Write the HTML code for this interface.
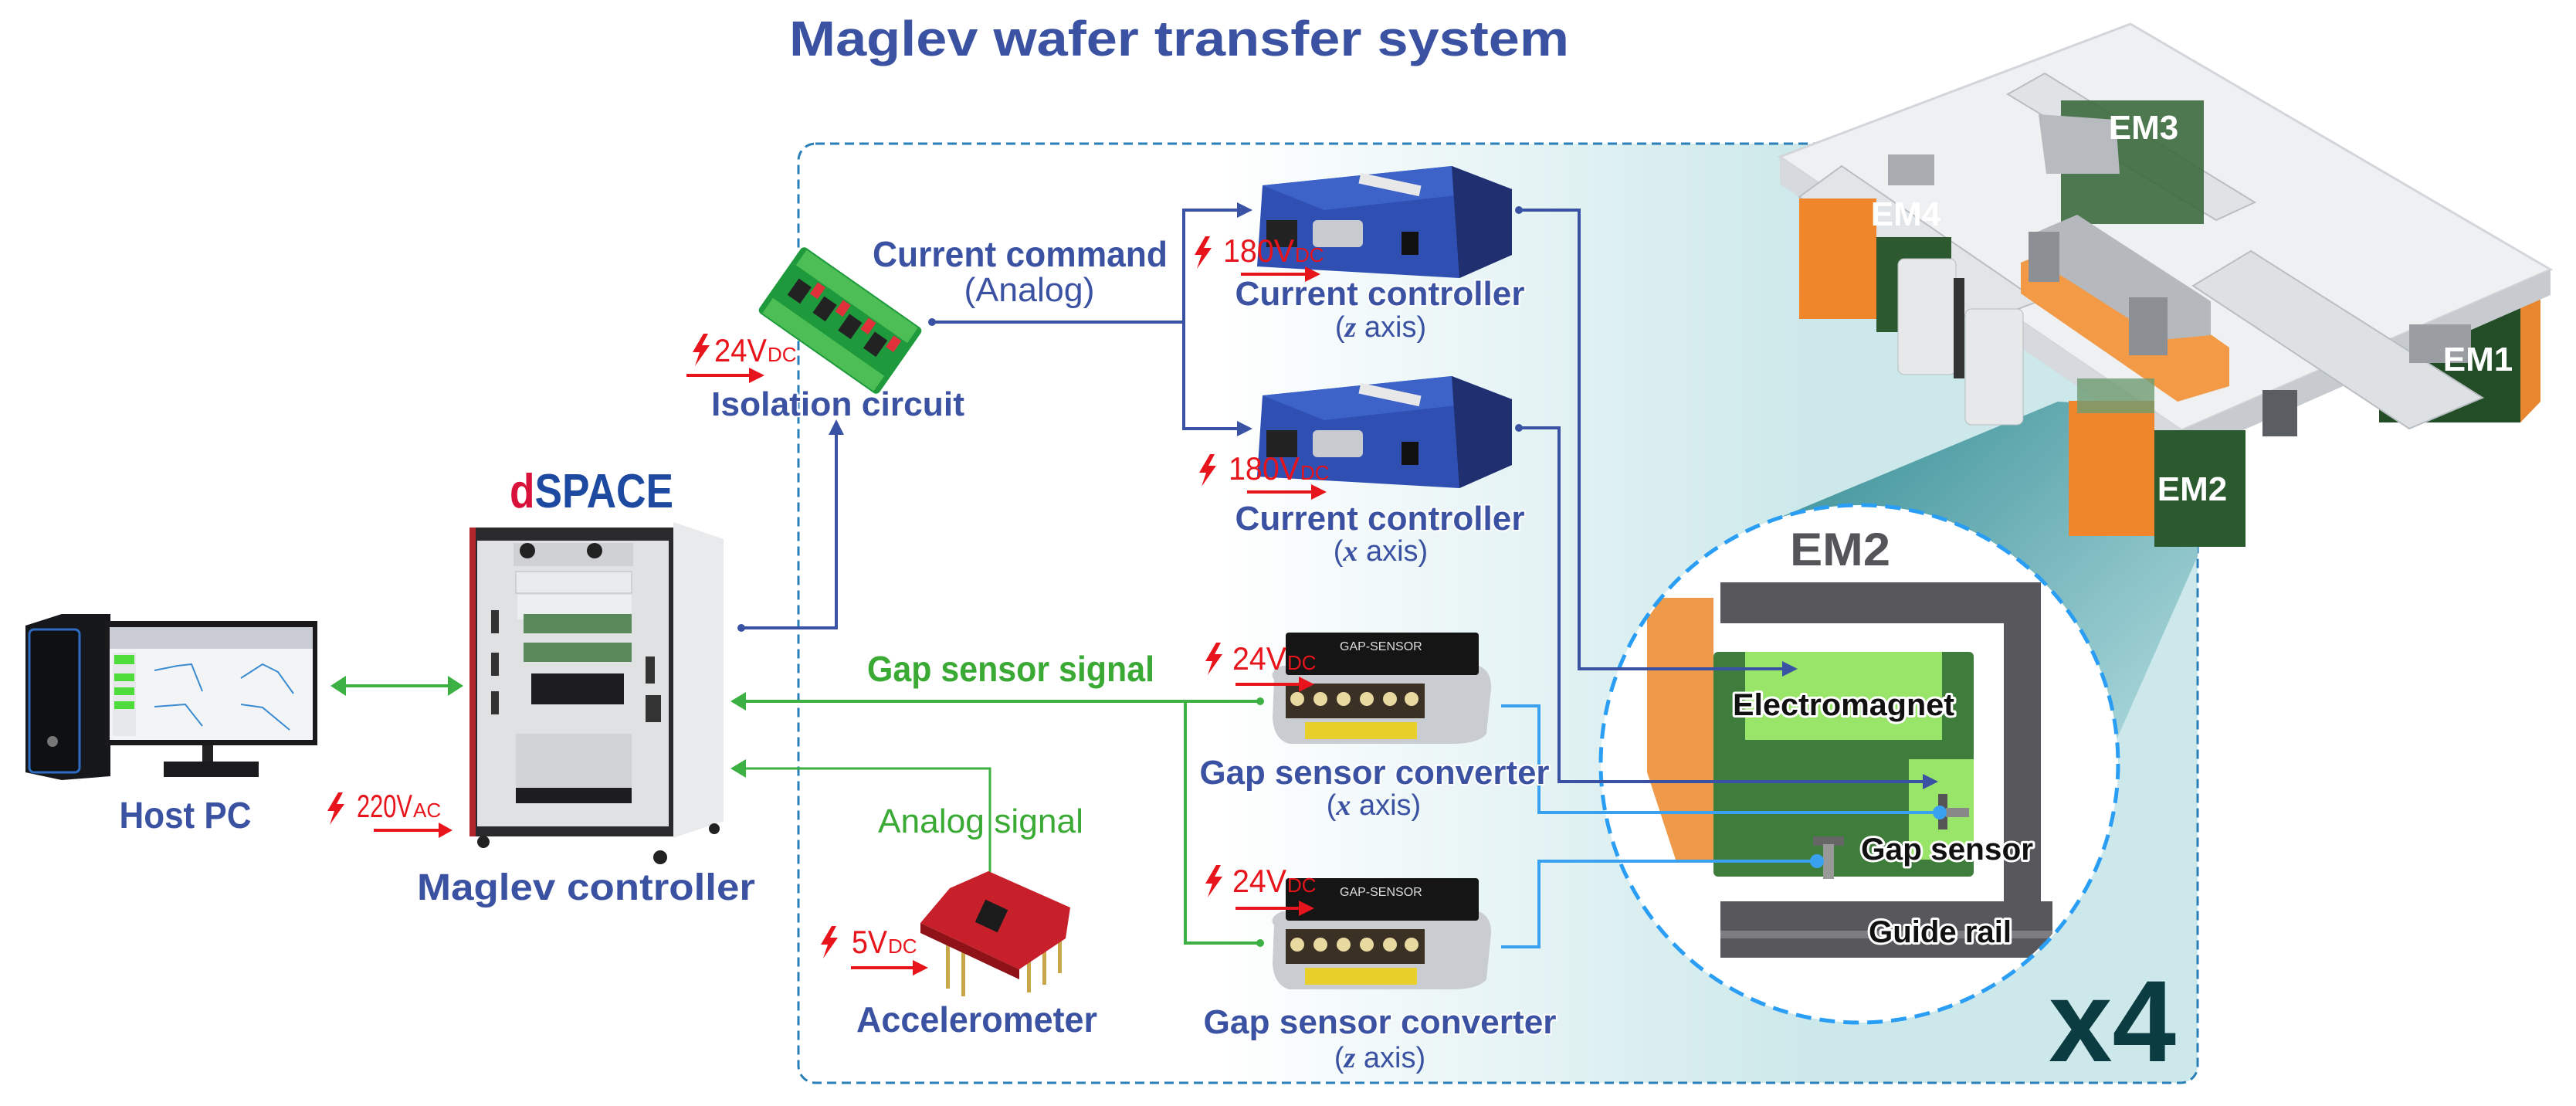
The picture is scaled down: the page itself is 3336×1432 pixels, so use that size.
<!DOCTYPE html>
<html><head><meta charset="utf-8"><style>
html,body{margin:0;padding:0;background:#fff;}
svg{display:block;}
text{font-family:"Liberation Sans",sans-serif;}
</style></head><body>
<svg width="3336" height="1432" viewBox="0 0 3336 1432" xmlns="http://www.w3.org/2000/svg">
<defs>
<linearGradient id="bg" gradientUnits="userSpaceOnUse" x1="1580" y1="0" x2="2350" y2="0">
<stop offset="0" stop-color="#ffffff"/><stop offset="1" stop-color="#cce8ea"/></linearGradient>
<linearGradient id="cone" gradientUnits="userSpaceOnUse" x1="2500" y1="520" x2="2850" y2="900">
<stop offset="0" stop-color="#4d9ca3"/><stop offset="1" stop-color="#a9d6da"/></linearGradient>
<clipPath id="cc"><circle cx="2408" cy="989" r="333"/></clipPath>
<path id="bolt" d="M14,0 L0,24 L9,24 L3,42 L22,15 L12,15 L20,0 Z" fill="#e8141b"/>
</defs>

<!-- Title -->
<text x="1527" y="72" font-size="64" font-weight="bold" fill="#3b52a3" text-anchor="middle" textLength="1010" lengthAdjust="spacingAndGlyphs">Maglev wafer transfer system</text>

<!-- dashed box -->
<rect x="1034" y="186" width="1812" height="1216" rx="22" fill="url(#bg)" stroke="#2a7fb8" stroke-width="3" stroke-dasharray="12,7"/>

<!-- cone -->
<polygon points="2665,520 2846,530 2846,720 2740,960 2300,672" fill="url(#cone)"/>

<!-- ===== Platform ===== -->
<g>
<rect x="2669" y="118" width="190" height="170" fill="#2f5a32"/>
<rect x="3081" y="390" width="183" height="157" fill="#234d27"/>
<polygon points="3264,380 3290,370 3290,520 3264,547" fill="#e8852f"/>
<polygon points="2759,31 3303,349 2825,557 2305,203" fill="#eef0f2" stroke="#d2d5d9" stroke-width="3"/>
<polygon points="2305,203 2825,557 2825,592 2305,238" fill="#d6d9dd"/>
<polygon points="2825,557 3303,349 3303,382 2825,592" fill="#c7cbd0"/>
<polygon points="2648,95 2920,262 2870,285 2600,122" fill="#dfe3e6" stroke="#b9bec3" stroke-width="2"/>
<polygon points="2915,325 3215,515 3120,555 2840,370" fill="#dde1e4" stroke="#b9bec3" stroke-width="2"/>
<polygon points="2385,215 2640,390 2560,420 2330,255" fill="#e2e5e8" stroke="#b9bec3" stroke-width="2"/>
<rect x="2669" y="130" width="185" height="160" fill="#3c6a3d" opacity="0.9"/>
<polygon points="2640,148 2740,155 2745,225 2650,225" fill="#b7babe"/>
<polygon points="2617,340 2690,311 2887,450 2887,500 2820,520 2617,380" fill="#f29a45"/>
<polygon points="2627,305 2690,278 2863,390 2863,434 2800,440 2627,330" fill="#b5b8bc"/>
<rect x="2627" y="300" width="40" height="65" fill="#8c8f93"/>
<rect x="2757" y="385" width="50" height="75" fill="#8c8f93"/>
<rect x="3120" y="420" width="80" height="50" fill="#9a9ea3"/>
<rect x="2330" y="257" width="100" height="156" fill="#f0862c"/>
<rect x="2430" y="307" width="97" height="123" fill="#2c5a2e"/>
<rect x="2445" y="200" width="60" height="40" fill="#a8abb0"/>
<rect x="2458" y="335" width="75" height="150" rx="8" fill="#e6e8ea" stroke="#b8bcc0"/>
<rect x="2545" y="400" width="75" height="150" rx="8" fill="#e6e8ea" stroke="#b8bcc0"/>
<rect x="2530" y="360" width="14" height="130" fill="#333"/>
<rect x="2679" y="519" width="111" height="175" fill="#f0862c"/>
<rect x="2790" y="557" width="118" height="151" fill="#2a5a2d"/>
<rect x="2690" y="490" width="100" height="45" fill="#6e9b72" opacity="0.8"/>
<rect x="2930" y="505" width="45" height="60" fill="#5a5d61"/>
</g>
<g font-size="44" font-weight="bold" fill="#fff" text-anchor="middle">
<text x="2776" y="180">EM3</text>
<text x="2468" y="292">EM4</text>
<text x="3209" y="480">EM1</text>
<text x="2839" y="648">EM2</text>
</g>

<!-- ===== Circle detail ===== -->
<circle cx="2408" cy="989" r="335" fill="#fff"/>
<g clip-path="url(#cc)">
<polygon points="2133,774 2219,774 2219,1113 2170,1113 2133,1000" fill="#ef9a4a"/>
<rect x="2228" y="754" width="415" height="53" fill="#58575c"/>
<rect x="2595" y="754" width="48" height="486" fill="#58575c"/>
<rect x="2228" y="1167" width="430" height="73" fill="#58575c"/>
<rect x="2228" y="1205" width="430" height="10" fill="#7d7c80"/>
<rect x="2219" y="844" width="337" height="291" rx="6" fill="#3f7d3c"/>
<rect x="2260" y="844" width="255" height="114" fill="#98e56a"/>
<rect x="2472" y="983" width="84" height="130" fill="#98e56a"/>
<rect x="2510" y="1028" width="12" height="46" fill="#555"/>
<rect x="2520" y="1046" width="30" height="12" fill="#888"/>
<rect x="2348" y="1083" width="40" height="12" fill="#666"/>
<rect x="2361" y="1093" width="14" height="45" fill="#999"/>
</g>
<circle cx="2408" cy="989" r="335" fill="none" stroke="#2a9df4" stroke-width="5" stroke-dasharray="20,11"/>
<text x="2383" y="732" font-size="60" font-weight="bold" fill="#555459" text-anchor="middle" textLength="130" lengthAdjust="spacingAndGlyphs">EM2</text>
<g font-size="40" font-weight="bold" fill="#111" stroke="#fff" stroke-width="6" paint-order="stroke" stroke-linejoin="round">
<text x="2244" y="926" textLength="287" lengthAdjust="spacingAndGlyphs">Electromagnet</text>
<text x="2410" y="1113" textLength="223" lengthAdjust="spacingAndGlyphs">Gap sensor</text>
<text x="2420" y="1220" textLength="185" lengthAdjust="spacingAndGlyphs">Guide rail</text>
</g>
<text x="2653" y="1374" font-size="150" font-weight="bold" fill="#0b3c42" textLength="165" lengthAdjust="spacingAndGlyphs">x4</text>

<!-- ===== Host PC ===== -->
<polygon points="33,810 80,795 143,795 143,1005 80,1010 33,1000" fill="#15171b"/>
<rect x="38" y="815" width="65" height="185" rx="6" fill="#0f1013" stroke="#2d6cc0" stroke-width="3"/>
<circle cx="68" cy="960" r="7" fill="#777"/>
<rect x="136" y="804" width="275" height="161" fill="#1a1a1c"/>
<rect x="142" y="812" width="263" height="146" fill="#f3f4f6"/>
<rect x="142" y="812" width="263" height="28" fill="#c9ccd2"/>
<rect x="146" y="845" width="30" height="108" fill="#e6e8ea"/>
<rect x="148" y="848" width="26" height="12" fill="#4ddc3a"/><rect x="148" y="872" width="26" height="10" fill="#4ddc3a"/>
<rect x="148" y="890" width="26" height="10" fill="#4ddc3a"/><rect x="148" y="908" width="26" height="10" fill="#4ddc3a"/>
<polyline points="200,868 230,862 248,860 262,895" fill="none" stroke="#3a8bd0" stroke-width="2"/>
<polyline points="312,878 340,860 360,870 380,898" fill="none" stroke="#3a8bd0" stroke-width="2"/>
<polyline points="200,915 240,912 262,940" fill="none" stroke="#3a8bd0" stroke-width="2"/>
<polyline points="312,912 340,916 375,945" fill="none" stroke="#3a8bd0" stroke-width="2"/>
<rect x="262" y="965" width="14" height="24" fill="#222"/>
<rect x="212" y="986" width="123" height="20" fill="#1b1b1d"/>
<text x="240" y="1072" font-size="48" font-weight="bold" fill="#3b52a3" text-anchor="middle" textLength="171" lengthAdjust="spacingAndGlyphs">Host PC</text>
<line x1="445" y1="888" x2="583" y2="888" stroke="#3cb043" stroke-width="4"/>
<polygon points="428,888 448,875 448,901" fill="#3cb043"/>
<polygon points="600,888 580,875 580,901" fill="#3cb043"/>
<use href="#bolt" x="424" y="1026"/>
<text x="462" y="1058" font-size="42" fill="#e8141b" textLength="72" lengthAdjust="spacingAndGlyphs">220V</text>
<text x="535" y="1058" font-size="26" fill="#e8141b">AC</text>
<line x1="484" y1="1075" x2="570" y2="1075" stroke="#e8141b" stroke-width="4"/>
<polygon points="586,1075 568,1065 568,1085" fill="#e8141b"/>

<!-- ===== dSPACE cabinet ===== -->
<text x="660" y="657" font-size="62" font-weight="bold" textLength="212" lengthAdjust="spacingAndGlyphs"><tspan fill="#d8123a">d</tspan><tspan fill="#1d4aa0">SPACE</tspan></text>
<polygon points="872,676 937,698 937,1063 872,1085" fill="#e8eaec"/>
<rect x="608" y="683" width="264" height="400" fill="#2a2a2c"/>
<rect x="608" y="683" width="8" height="400" fill="#b0262a"/>
<rect x="618" y="700" width="248" height="370" fill="#dfe1e3"/>
<rect x="665" y="703" width="155" height="30" fill="#cfd1d4"/>
<circle cx="683" cy="713" r="10" fill="#222"/><circle cx="770" cy="713" r="10" fill="#222"/>
<rect x="668" y="740" width="150" height="28" fill="#e9eaec" stroke="#bbb"/>
<rect x="670" y="770" width="148" height="32" fill="#eceeef"/>
<rect x="678" y="795" width="140" height="25" fill="#5a8a5c"/>
<rect x="678" y="832" width="140" height="25" fill="#5a8a5c"/>
<rect x="688" y="872" width="120" height="40" fill="#1d1d1f"/>
<rect x="668" y="950" width="150" height="70" fill="#d1d3d6"/>
<rect x="668" y="1020" width="150" height="20" fill="#1d1d1f"/>
<rect x="636" y="790" width="10" height="30" fill="#333"/><rect x="636" y="845" width="10" height="30" fill="#333"/><rect x="636" y="895" width="10" height="30" fill="#333"/>
<rect x="836" y="850" width="12" height="35" fill="#333"/><rect x="836" y="900" width="20" height="35" fill="#333"/>
<circle cx="626" cy="1090" r="8" fill="#222"/><circle cx="855" cy="1110" r="9" fill="#222"/><circle cx="925" cy="1073" r="7" fill="#222"/>
<text x="759" y="1165" font-size="48" font-weight="bold" fill="#3b52a3" text-anchor="middle" textLength="438" lengthAdjust="spacingAndGlyphs">Maglev controller</text>

<!-- ===== Connectors ===== -->
<circle cx="960" cy="813" r="5" fill="#3a52a3"/>
<polyline points="960,813 1083,813 1083,560" fill="none" stroke="#3a52a3" stroke-width="4"/>
<polygon points="1083,543 1073,563 1093,563" fill="#3a52a3"/>
<circle cx="1207" cy="417" r="5" fill="#3a52a3"/>
<polyline points="1207,417 1533,417" fill="none" stroke="#3a52a3" stroke-width="4"/>
<polyline points="1605,272 1533,272 1533,555 1605,555" fill="none" stroke="#3a52a3" stroke-width="4"/>
<polygon points="1622,272 1602,262 1602,282" fill="#3a52a3"/>
<polygon points="1622,555 1602,545 1602,565" fill="#3a52a3"/>
<circle cx="1967" cy="272" r="5" fill="#3a52a3"/>
<polyline points="1967,272 2045,272 2045,866 2310,866" fill="none" stroke="#3a52a3" stroke-width="4"/>
<polygon points="2328,866 2308,856 2308,876" fill="#3a52a3"/>
<circle cx="1967" cy="554" r="5" fill="#3a52a3"/>
<polyline points="1967,554 2019,554 2019,1012 2492,1012" fill="none" stroke="#3a52a3" stroke-width="4"/>
<polygon points="2510,1012 2490,1002 2490,1022" fill="#3a52a3"/>
<polyline points="1944,914 1993,914 1993,1052 2512,1052" fill="none" stroke="#3aa0f0" stroke-width="4"/>
<circle cx="2512" cy="1052" r="9" fill="#3aa0f0"/>
<polyline points="1944,1226 1993,1226 1993,1115 2353,1115" fill="none" stroke="#3aa0f0" stroke-width="4"/>
<circle cx="2353" cy="1115" r="9" fill="#3aa0f0"/>
<polyline points="962,908 1632,908" fill="none" stroke="#3cb043" stroke-width="4"/>
<polygon points="946,908 966,896 966,920" fill="#3cb043"/>
<circle cx="1632" cy="908" r="5" fill="#3cb043"/>
<polyline points="1535,908 1535,1221 1632,1221" fill="none" stroke="#3cb043" stroke-width="4"/>
<circle cx="1632" cy="1221" r="5" fill="#3cb043"/>
<polyline points="962,995 1282,995 1282,1135" fill="none" stroke="#3cb043" stroke-width="3"/>
<polygon points="946,995 966,983 966,1007" fill="#3cb043"/>

<!-- ===== Isolation circuit ===== -->
<g transform="translate(1088,415) rotate(35)">
<rect x="-95" y="-52" width="190" height="104" rx="6" fill="#1e9a3c"/>
<rect x="-88" y="-50" width="176" height="24" fill="#4cbe55"/>
<rect x="-88" y="26" width="176" height="24" fill="#4cbe55"/>
<rect x="-75" y="-14" width="20" height="26" fill="#222"/><rect x="-35" y="-14" width="20" height="26" fill="#222"/>
<rect x="5" y="-14" width="20" height="26" fill="#222"/><rect x="45" y="-14" width="20" height="26" fill="#222"/>
<rect x="-52" y="-24" width="12" height="18" fill="#e0303a"/><rect x="-12" y="-24" width="12" height="18" fill="#e0303a"/>
<rect x="28" y="-24" width="12" height="18" fill="#e0303a"/><rect x="68" y="-24" width="12" height="18" fill="#e0303a"/>
</g>
<text x="1085" y="538" font-size="44" font-weight="bold" fill="#3b52a3" text-anchor="middle" textLength="328" lengthAdjust="spacingAndGlyphs" stroke="#fff" stroke-width="4" paint-order="stroke">Isolation circuit</text>
<use href="#bolt" x="897" y="432"/>
<text x="925" y="468" font-size="42" fill="#e8141b" textLength="68" lengthAdjust="spacingAndGlyphs">24V</text>
<text x="994" y="468" font-size="26" fill="#e8141b">DC</text>
<line x1="889" y1="486" x2="972" y2="486" stroke="#e8141b" stroke-width="4"/>
<polygon points="990,486 970,476 970,496" fill="#e8141b"/>

<text x="1321" y="345" font-size="46" font-weight="bold" fill="#3b52a3" text-anchor="middle" textLength="382" lengthAdjust="spacingAndGlyphs">Current command</text>
<text x="1333" y="390" font-size="44" fill="#3b52a3" text-anchor="middle" textLength="169" lengthAdjust="spacingAndGlyphs">(Analog)</text>

<!-- ===== Current controllers ===== -->
<g id="cc1">
<polygon points="1635,240 1880,215 1958,245 1958,330 1890,360 1628,345" fill="#2f4fb3"/>
<polygon points="1635,240 1880,215 1958,245 1715,272" fill="#3d62c8"/>
<polygon points="1880,215 1958,245 1958,330 1890,360" fill="#1f2f70"/>
<rect x="1640" y="285" width="40" height="35" fill="#222"/>
<rect x="1700" y="285" width="65" height="35" rx="6" fill="#c8cbd0"/>
<rect x="1815" y="300" width="22" height="30" fill="#111"/>
<rect x="1760" y="232" width="80" height="14" fill="#e8e8e8" transform="rotate(12 1800 239)"/>
</g>
<use href="#cc1" y="272"/>
<use href="#bolt" x="1547" y="306"/>
<text x="1584" y="339" font-size="42" fill="#e8141b" textLength="92" lengthAdjust="spacingAndGlyphs">180V</text>
<text x="1677" y="339" font-size="26" fill="#e8141b">DC</text>
<line x1="1607" y1="355" x2="1692" y2="355" stroke="#e8141b" stroke-width="4"/>
<polygon points="1710,355 1690,345 1690,365" fill="#e8141b"/>
<text x="1787" y="395" font-size="44" font-weight="bold" fill="#3b52a3" text-anchor="middle" textLength="375" lengthAdjust="spacingAndGlyphs" stroke="#fff" stroke-width="4" paint-order="stroke">Current controller</text>
<text x="1788" y="436" font-size="38" fill="#3b52a3" text-anchor="middle">(<tspan font-family="Liberation Serif" font-style="italic" font-weight="bold">z</tspan> axis)</text>

<use href="#bolt" x="1553" y="588"/>
<text x="1591" y="621" font-size="42" fill="#e8141b" textLength="92" lengthAdjust="spacingAndGlyphs">180V</text>
<text x="1684" y="621" font-size="26" fill="#e8141b">DC</text>
<line x1="1615" y1="637" x2="1700" y2="637" stroke="#e8141b" stroke-width="4"/>
<polygon points="1718,637 1698,627 1698,647" fill="#e8141b"/>
<text x="1787" y="686" font-size="44" font-weight="bold" fill="#3b52a3" text-anchor="middle" textLength="375" lengthAdjust="spacingAndGlyphs" stroke="#fff" stroke-width="4" paint-order="stroke">Current controller</text>
<text x="1788" y="726" font-size="38" fill="#3b52a3" text-anchor="middle">(<tspan font-family="Liberation Serif" font-style="italic" font-weight="bold">x</tspan> axis)</text>

<!-- ===== Gap sensor converters ===== -->
<g id="gs1">
<path d="M1650,880 Q1642,870 1660,862 L1915,862 Q1935,870 1930,900 L1925,950 Q1915,963 1880,963 L1670,963 Q1650,958 1648,930 Z" fill="#c9ccd0"/>
<rect x="1665" y="819" width="250" height="55" rx="4" fill="#151515"/>
<text x="1735" y="842" font-size="16" fill="#ddd">GAP-SENSOR</text>
<rect x="1665" y="885" width="180" height="45" fill="#3a3024"/>
<circle cx="1680" cy="905" r="9" fill="#e8d9a0"/><circle cx="1710" cy="905" r="9" fill="#e8d9a0"/><circle cx="1740" cy="905" r="9" fill="#e8d9a0"/>
<circle cx="1770" cy="905" r="9" fill="#e8d9a0"/><circle cx="1800" cy="905" r="9" fill="#e8d9a0"/><circle cx="1828" cy="905" r="9" fill="#e8d9a0"/>
<rect x="1690" y="935" width="145" height="22" fill="#e8cf2a"/>
</g>
<use href="#gs1" y="318"/>
<use href="#bolt" x="1561" y="832"/>
<text x="1596" y="867" font-size="42" fill="#e8141b" textLength="70" lengthAdjust="spacingAndGlyphs">24V</text>
<text x="1667" y="867" font-size="26" fill="#e8141b">DC</text>
<line x1="1600" y1="886" x2="1684" y2="886" stroke="#e8141b" stroke-width="4"/>
<polygon points="1702,886 1682,876 1682,896" fill="#e8141b"/>
<text x="1780" y="1015" font-size="44" font-weight="bold" fill="#3b52a3" text-anchor="middle" textLength="453" lengthAdjust="spacingAndGlyphs" stroke="#fff" stroke-width="4" paint-order="stroke">Gap sensor converter</text>
<text x="1779" y="1055" font-size="38" fill="#3b52a3" text-anchor="middle">(<tspan font-family="Liberation Serif" font-style="italic" font-weight="bold">x</tspan> axis)</text>

<use href="#bolt" x="1561" y="1120"/>
<text x="1596" y="1155" font-size="42" fill="#e8141b" textLength="70" lengthAdjust="spacingAndGlyphs">24V</text>
<text x="1667" y="1155" font-size="26" fill="#e8141b">DC</text>
<line x1="1600" y1="1176" x2="1684" y2="1176" stroke="#e8141b" stroke-width="4"/>
<polygon points="1702,1176 1682,1166 1682,1186" fill="#e8141b"/>
<text x="1787" y="1338" font-size="44" font-weight="bold" fill="#3b52a3" text-anchor="middle" textLength="457" lengthAdjust="spacingAndGlyphs" stroke="#fff" stroke-width="4" paint-order="stroke">Gap sensor converter</text>
<text x="1787" y="1382" font-size="38" fill="#3b52a3" text-anchor="middle">(<tspan font-family="Liberation Serif" font-style="italic" font-weight="bold">z</tspan> axis)</text>

<text x="1309" y="882" font-size="46" font-weight="bold" fill="#3aaa35" text-anchor="middle" textLength="372" lengthAdjust="spacingAndGlyphs">Gap sensor signal</text>
<text x="1270" y="1078" font-size="44" fill="#3aaa35" text-anchor="middle" textLength="266" lengthAdjust="spacingAndGlyphs">Analog signal</text>

<!-- ===== Accelerometer ===== -->
<g>
<rect x="1225" y="1210" width="5" height="70" fill="#c9a64a"/><rect x="1245" y="1220" width="5" height="70" fill="#c9a64a"/>
<rect x="1330" y="1220" width="5" height="65" fill="#c9a64a"/><rect x="1350" y="1210" width="5" height="65" fill="#c9a64a"/><rect x="1370" y="1200" width="5" height="60" fill="#c9a64a"/>
<polygon points="1230,1150 1280,1128 1386,1175 1380,1215 1320,1255 1192,1195" fill="#c8202a"/>
<polygon points="1192,1195 1320,1255 1320,1268 1192,1208" fill="#8e1218"/>
<rect x="1268" y="1170" width="32" height="32" fill="#1b1b1b" transform="rotate(25 1284 1186)"/>
</g>
<use href="#bolt" x="1063" y="1199"/>
<text x="1103" y="1234" font-size="42" fill="#e8141b" textLength="46" lengthAdjust="spacingAndGlyphs">5V</text>
<text x="1150" y="1234" font-size="26" fill="#e8141b">DC</text>
<line x1="1102" y1="1253" x2="1184" y2="1253" stroke="#e8141b" stroke-width="4"/>
<polygon points="1202,1253 1182,1243 1182,1263" fill="#e8141b"/>
<text x="1265" y="1336" font-size="46" font-weight="bold" fill="#3b52a3" text-anchor="middle" textLength="312" lengthAdjust="spacingAndGlyphs">Accelerometer</text>
</svg>
</body></html>
